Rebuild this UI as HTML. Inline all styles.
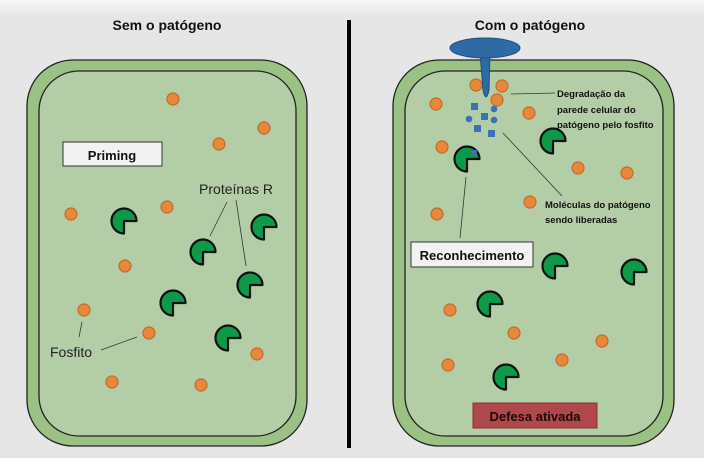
<!DOCTYPE html>
<html><head><meta charset="utf-8"><style>
html,body{margin:0;padding:0;background:#e6e6e6;}
svg{display:block;}
text{font-family:"Liberation Sans",sans-serif;}
</style></head><body>
<svg width="704" height="458" viewBox="0 0 704 458" xmlns="http://www.w3.org/2000/svg">
<defs>
<linearGradient id="tg" x1="0" y1="0" x2="0" y2="1"><stop offset="0" stop-color="#f7f7f7"/><stop offset="1" stop-color="#e6e6e6"/></linearGradient>
<g id="pac"><path d="M0,0 L0,12.5 A12.5,12.5 0 1 1 12.5,0 Z" fill="#0c9a48" stroke="#111" stroke-width="2.2" stroke-linejoin="round"/></g>
<g id="dot"><circle r="6" fill="#e8883a" stroke="#c46a26" stroke-width="1.2"/></g>
</defs>
<rect x="0" y="0" width="704" height="16" fill="url(#tg)"/>
<text x="167" y="30" font-size="14" font-weight="bold" text-anchor="middle" fill="#111">Sem o patógeno</text>
<text x="530" y="30" font-size="14" font-weight="bold" text-anchor="middle" fill="#111">Com o patógeno</text>
<rect x="347" y="20" width="4" height="428" fill="#000"/>

<rect x="27" y="60" width="280" height="386" rx="46" fill="#9bc184" stroke="#222" stroke-width="1.3"/>
<rect x="39" y="71" width="257" height="365" rx="40" fill="#b3cea6" stroke="#222" stroke-width="1.3"/>
<rect x="393" y="60" width="281" height="386" rx="46" fill="#9bc184" stroke="#222" stroke-width="1.3"/>
<rect x="405" y="71" width="258" height="365" rx="40" fill="#b3cea6" stroke="#222" stroke-width="1.3"/>

<rect x="63" y="142" width="99" height="24" fill="#f2f2f2" stroke="#333" stroke-width="1"/>
<text x="112" y="160" font-size="13" font-weight="bold" text-anchor="middle" fill="#111">Priming</text>
<text x="236" y="194" font-size="14" text-anchor="middle" fill="#222">Proteínas R</text>
<line x1="227" y1="202" x2="210" y2="236" stroke="#333" stroke-width="0.8"/>
<line x1="236" y1="200" x2="246" y2="266" stroke="#333" stroke-width="0.8"/>
<text x="50" y="357" font-size="14" fill="#222">Fosfito</text>
<line x1="82" y1="322" x2="79" y2="337" stroke="#333" stroke-width="0.8"/>
<line x1="101" y1="350" x2="137" y2="337" stroke="#333" stroke-width="0.8"/>
<use href="#dot" x="173" y="99"/><use href="#dot" x="264" y="128"/><use href="#dot" x="219" y="144"/>
<use href="#dot" x="71" y="214"/><use href="#dot" x="167" y="207"/><use href="#dot" x="125" y="266"/>
<use href="#dot" x="84" y="310"/><use href="#dot" x="149" y="333"/><use href="#dot" x="257" y="354"/>
<use href="#dot" x="112" y="382"/><use href="#dot" x="201" y="385"/>
<use href="#pac" x="124" y="221"/><use href="#pac" x="203" y="252"/><use href="#pac" x="264" y="227"/>
<use href="#pac" x="250" y="285"/><use href="#pac" x="173" y="303"/><use href="#pac" x="228" y="338"/>

<use href="#dot" x="476" y="85"/><use href="#dot" x="502" y="86"/><use href="#dot" x="436" y="104"/>
<use href="#dot" x="529" y="113"/><use href="#dot" x="442" y="147"/><use href="#dot" x="578" y="168"/>
<use href="#dot" x="627" y="173"/><use href="#dot" x="530" y="202"/><use href="#dot" x="437" y="214"/>
<use href="#dot" x="450" y="310"/><use href="#dot" x="514" y="333"/><use href="#dot" x="602" y="341"/>
<use href="#dot" x="448" y="365"/><use href="#dot" x="562" y="360"/>
<path d="M480,52 L490,52 L489,90 Q486,104 483,90 Z" fill="#2e6aa6" stroke="#1f4f80" stroke-width="1"/>
<ellipse cx="485" cy="48" rx="35" ry="10" fill="#2e6aa6" stroke="#1f4f80" stroke-width="1"/>
<use href="#dot" x="497" y="100"/>
<g fill="#3a72b8">
<rect x="471" y="103" width="7" height="7"/><rect x="481" y="113" width="7" height="7"/>
<rect x="474" y="125" width="7" height="7"/><rect x="488" y="130" width="7" height="7"/>
<circle cx="494" cy="109" r="3.3"/><circle cx="469" cy="119" r="3.3"/><circle cx="494" cy="120" r="3.3"/>
</g>
<use href="#pac" x="553" y="141"/><use href="#pac" x="467" y="159"/>
<use href="#pac" x="555" y="266"/><use href="#pac" x="634" y="272"/><use href="#pac" x="490" y="304"/>
<use href="#pac" x="506" y="377"/>
<rect x="471" y="150" width="6" height="6" fill="#3a72b8"/>
<text font-size="9.5" font-weight="bold" fill="#111"><tspan x="557" y="97">Degradação da</tspan><tspan x="557" y="113">parede celular do</tspan><tspan x="557" y="128">patógeno pelo fosfito</tspan></text>
<line x1="511" y1="94" x2="555" y2="93" stroke="#333" stroke-width="0.8"/>
<text font-size="9.5" font-weight="bold" fill="#111"><tspan x="545" y="208">Moléculas do patógeno</tspan><tspan x="545" y="223">sendo liberadas</tspan></text>
<line x1="503" y1="133" x2="562" y2="196" stroke="#333" stroke-width="0.8"/>
<line x1="466" y1="177" x2="460" y2="238" stroke="#333" stroke-width="0.8"/>
<rect x="411" y="242" width="122" height="25" fill="#f2f2f2" stroke="#333" stroke-width="1"/>
<text x="472" y="260" font-size="13" font-weight="bold" text-anchor="middle" fill="#111">Reconhecimento</text>
<rect x="473" y="403" width="124" height="25" fill="#b0474a" stroke="#8a2f33" stroke-width="1"/>
<text x="535" y="421" font-size="13" font-weight="bold" text-anchor="middle" fill="#1a0a0a">Defesa ativada</text>
</svg>
</body></html>
